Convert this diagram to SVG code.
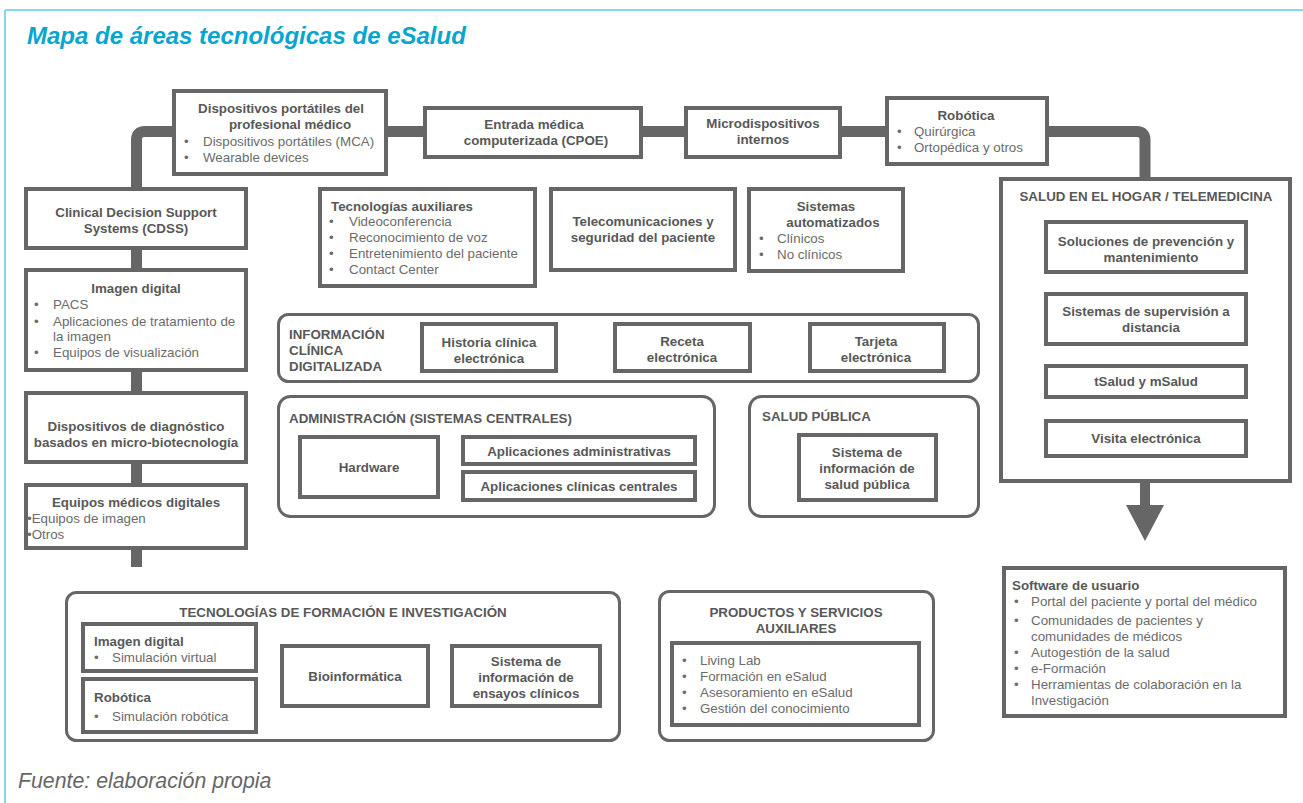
<svg xmlns="http://www.w3.org/2000/svg" width="1303" height="803" viewBox="0 0 1303 803">
<style>
.box{fill:#fff;stroke:#666;stroke-width:4}
.grp{fill:#fff;stroke:#666;stroke-width:3}
.b{font-family:"Liberation Sans",Arial,sans-serif;font-size:13.33px;font-weight:bold;fill:#585858}
.t{font-family:"Liberation Sans",Arial,sans-serif;font-size:13.33px;fill:#6b6b6b}
.h{font-family:"Liberation Sans",Arial,sans-serif;font-size:13.33px;font-weight:bold;fill:#585858}
.c{text-anchor:middle}
.con{fill:none;stroke:#666;stroke-width:11}
</style>
<rect x="0" y="0" width="1303" height="803" fill="#fff"/>
<g id="frame">
<line x1="5" y1="10" x2="1303" y2="10" stroke="#86d6ee" stroke-width="2"/>
<line x1="5" y1="10" x2="5" y2="803" stroke="#86d6ee" stroke-width="2"/>
</g>
<text x="27" y="44" font-family="'Liberation Sans',Arial,sans-serif" font-size="24" font-weight="bold" font-style="italic" fill="#08a6cf">Mapa de áreas tecnológicas de eSalud</text>

<g id="connectors">
<path class="con" d="M136.5,190 V140 Q136.5,131.5 145,131.5 H1136.5 Q1145,131.5 1145,140 V181"/>
<line class="con" x1="136.5" y1="248" x2="136.5" y2="567"/>
<rect x="1140" y="481" width="10" height="26" fill="#666"/>
<polygon points="1126,505 1164,505 1145,541" fill="#666"/>
</g>

<g id="cdss">
<rect class="box" x="26" y="189" width="220" height="59"/>
<text class="b c" x="136" y="217">Clinical Decision Support</text>
<text class="b c" x="136" y="233">Systems (CDSS)</text>
</g>
<g id="imagen-digital">
<rect class="box" x="26" y="270" width="220" height="100"/>
<text class="b c" x="136" y="293">Imagen digital</text>
<text class="t" x="34" y="309">•</text><text class="t" x="53" y="309">PACS</text>
<text class="t" x="34" y="326">•</text><text class="t" x="53" y="326">Aplicaciones de tratamiento de</text>
<text class="t" x="53" y="341">la imagen</text>
<text class="t" x="34" y="357">•</text><text class="t" x="53" y="357">Equipos de visualización</text>
</g>
<g id="diagnostico">
<rect class="box" x="26" y="393" width="220" height="69"/>
<text class="b c" x="136" y="431">Dispositivos de diagnóstico</text>
<text class="b c" x="136" y="447">basados en micro-biotecnología</text>
</g>
<g id="equipos">
<rect class="box" x="26" y="485" width="220" height="63"/>
<text class="b c" x="136" y="507">Equipos médicos digitales</text>
<text class="t" x="27" y="523">•Equipos de imagen</text>
<text class="t" x="27" y="539">•Otros</text>
</g>

<g id="portatiles">
<rect class="box" x="174" y="91" width="212" height="83"/>
<text class="b c" x="281" y="113">Dispositivos portátiles del</text>
<text class="b c" x="290" y="129">profesional médico</text>
<text class="t" x="184" y="146">•</text><text class="t" x="203" y="146">Dispositivos portátiles (MCA)</text>
<text class="t" x="184" y="162">•</text><text class="t" x="203" y="162">Wearable devices</text>
</g>
<g id="cpoe">
<rect class="box" x="425" y="108" width="216" height="49"/>
<text class="b c" x="534" y="129">Entrada médica</text>
<text class="b c" x="536" y="145">computerizada (CPOE)</text>
</g>
<g id="micro">
<rect class="box" x="686" y="108" width="154" height="49"/>
<text class="b c" x="763" y="128">Microdispositivos</text>
<text class="b c" x="763" y="144">internos</text>
</g>
<g id="robotica">
<rect class="box" x="887" y="98" width="160" height="66"/>
<text class="b c" x="966" y="120">Robótica</text>
<text class="t" x="897" y="136">•</text><text class="t" x="914" y="136">Quirúrgica</text>
<text class="t" x="897" y="152">•</text><text class="t" x="914" y="152">Ortopédica y otros</text>
</g>

<g id="auxiliares">
<rect class="box" x="320" y="189" width="215" height="97"/>
<text class="b" x="331" y="211">Tecnologías auxiliares</text>
<text class="t" x="329" y="226">•</text><text class="t" x="349" y="226">Videoconferencia</text>
<text class="t" x="329" y="242">•</text><text class="t" x="349" y="242">Reconocimiento de voz</text>
<text class="t" x="329" y="258">•</text><text class="t" x="349" y="258">Entretenimiento del paciente</text>
<text class="t" x="329" y="274">•</text><text class="t" x="349" y="274">Contact Center</text>
</g>
<g id="telecom">
<rect class="box" x="551" y="189" width="184" height="81"/>
<text class="b c" x="643" y="226">Telecomunicaciones y</text>
<text class="b c" x="643" y="242">seguridad del paciente</text>
</g>
<g id="automatizados">
<rect class="box" x="749" y="189" width="154" height="82"/>
<text class="b c" x="826" y="211">Sistemas</text>
<text class="b c" x="833" y="227">automatizados</text>
<text class="t" x="759" y="243">•</text><text class="t" x="777" y="243">Clínicos</text>
<text class="t" x="759" y="259">•</text><text class="t" x="777" y="259">No clínicos</text>
</g>

<g id="info-clinica">
<rect class="grp" x="278.5" y="314.5" width="700" height="67" rx="10"/>
<text class="h" x="289" y="339">INFORMACIÓN</text>
<text class="h" x="289" y="355">CLÍNICA</text>
<text class="h" x="289" y="371">DIGITALIZADA</text>
</g>
<g id="historia">
<rect class="box" x="422" y="324" width="134" height="47"/>
<text class="b c" x="489" y="347">Historia clínica</text>
<text class="b c" x="489" y="363">electrónica</text>
</g>
<g id="receta">
<rect class="box" x="615" y="324" width="135" height="47"/>
<text class="b c" x="682" y="346">Receta</text>
<text class="b c" x="682" y="362">electrónica</text>
</g>
<g id="tarjeta">
<rect class="box" x="810" y="324" width="134" height="47"/>
<text class="b c" x="876" y="346">Tarjeta</text>
<text class="b c" x="876" y="362">electrónica</text>
</g>

<g id="administracion">
<rect class="grp" x="278.5" y="396.5" width="436" height="120" rx="12"/>
<text class="h" x="289" y="423">ADMINISTRACIÓN (SISTEMAS CENTRALES)</text>
</g>
<g id="hardware">
<rect class="box" x="300" y="437" width="138" height="60"/>
<text class="b c" x="369" y="472">Hardware</text>
</g>
<g id="apl-admin">
<rect class="box" x="463" y="437" width="232" height="27"/>
<text class="b c" x="579" y="456">Aplicaciones administrativas</text>
</g>
<g id="apl-clin">
<rect class="box" x="463" y="472" width="232" height="28"/>
<text class="b c" x="579" y="491">Aplicaciones clínicas centrales</text>
</g>

<g id="salud-publica">
<rect class="grp" x="749.5" y="396.5" width="229" height="120" rx="12"/>
<text class="h" x="762" y="421">SALUD PÚBLICA</text>
</g>
<g id="sis-salud-publica">
<rect class="box" x="799" y="435" width="137" height="65"/>
<text class="b c" x="867" y="457">Sistema de</text>
<text class="b c" x="867" y="473">información de</text>
<text class="b c" x="867" y="489">salud pública</text>
</g>

<g id="hogar">
<rect class="box" x="1001" y="179" width="289" height="302"/>
<text class="h c" x="1146" y="201">SALUD EN EL HOGAR / TELEMEDICINA</text>
</g>
<g id="prevencion">
<rect class="box" x="1046" y="222" width="200" height="50"/>
<text class="b c" x="1146" y="246">Soluciones de prevención y</text>
<text class="b c" x="1151" y="262">mantenimiento</text>
</g>
<g id="supervision">
<rect class="box" x="1046" y="294" width="200" height="50"/>
<text class="b c" x="1146" y="316">Sistemas de supervisión a</text>
<text class="b c" x="1151" y="332">distancia</text>
</g>
<g id="tsalud">
<rect class="box" x="1046" y="366" width="200" height="31"/>
<text class="b c" x="1146" y="386">tSalud y mSalud</text>
</g>
<g id="visita">
<rect class="box" x="1046" y="421" width="200" height="35"/>
<text class="b c" x="1146" y="443">Visita electrónica</text>
</g>

<g id="software">
<rect class="box" x="1004" y="568" width="281" height="148"/>
<text class="b" x="1012" y="590">Software de usuario</text>
<text class="t" x="1014" y="606">•</text><text class="t" x="1031" y="606">Portal del paciente y portal del médico</text>
<text class="t" x="1014" y="625">•</text><text class="t" x="1031" y="625">Comunidades de pacientes y</text>
<text class="t" x="1031" y="641">comunidades de médicos</text>
<text class="t" x="1014" y="657">•</text><text class="t" x="1031" y="657">Autogestión de la salud</text>
<text class="t" x="1014" y="673">•</text><text class="t" x="1031" y="673">e-Formación</text>
<text class="t" x="1014" y="689">•</text><text class="t" x="1031" y="689">Herramientas de colaboración en la</text>
<text class="t" x="1031" y="705">Investigación</text>
</g>

<g id="formacion">
<rect class="grp" x="66.5" y="592.5" width="553" height="148" rx="10"/>
<text class="h c" x="343" y="617">TECNOLOGÍAS DE FORMACIÓN E INVESTIGACIÓN</text>
</g>
<g id="f-imagen">
<rect class="box" x="83" y="624" width="173" height="47"/>
<text class="b" x="94" y="646">Imagen digital</text>
<text class="t" x="94" y="662">•</text><text class="t" x="112" y="662">Simulación virtual</text>
</g>
<g id="f-robotica">
<rect class="box" x="83" y="679" width="173" height="53"/>
<text class="b" x="94" y="702">Robótica</text>
<text class="t" x="94" y="721">•</text><text class="t" x="112" y="721">Simulación robótica</text>
</g>
<g id="bioinformatica">
<rect class="box" x="282" y="646" width="146" height="60"/>
<text class="b c" x="355" y="681">Bioinformática</text>
</g>
<g id="ensayos">
<rect class="box" x="452" y="646" width="148" height="60"/>
<text class="b c" x="526" y="666">Sistema de</text>
<text class="b c" x="526" y="682">información de</text>
<text class="b c" x="526" y="698">ensayos clínicos</text>
</g>

<g id="productos">
<rect class="grp" x="659.5" y="591.5" width="274" height="149" rx="10"/>
<text class="h c" x="796" y="617">PRODUCTOS Y SERVICIOS</text>
<text class="h c" x="796" y="633">AUXILIARES</text>
</g>
<g id="productos-lista">
<rect class="box" x="672" y="643" width="247" height="82"/>
<text class="t" x="682" y="665">•</text><text class="t" x="700" y="665">Living Lab</text>
<text class="t" x="682" y="681">•</text><text class="t" x="700" y="681">Formación en eSalud</text>
<text class="t" x="682" y="697">•</text><text class="t" x="700" y="697">Asesoramiento en eSalud</text>
<text class="t" x="682" y="713">•</text><text class="t" x="700" y="713">Gestión del conocimiento</text>
</g>

<text x="18" y="788" font-family="'Liberation Sans',Arial,sans-serif" font-size="21.3" font-style="italic" fill="#666">Fuente: elaboración propia</text>
</svg>
